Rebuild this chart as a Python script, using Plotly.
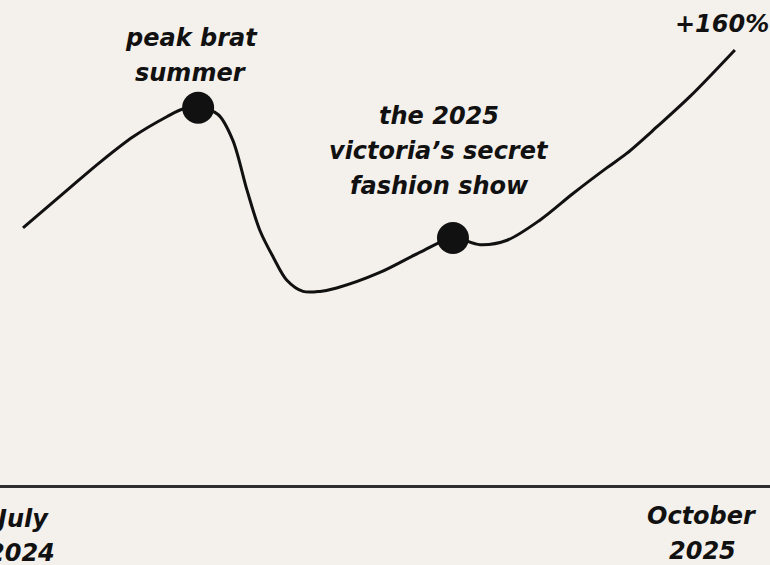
import plotly.graph_objects as go

# data (months since July 2024, % change vs start)
months = [0, 0.93, 1.62, 2.32, 3.03, 3.37, 3.69, 4.11, 4.42, 4.72, 4.99, 5.27,
          5.56, 5.90, 6.26, 6.61, 7.52, 8.36, 9.06, 9.63, 10.20, 10.89, 11.59,
          12.30, 12.72, 13.36, 14.05, 15.0]
pct = [0, 34, 59, 82, 100, 107, 108, 102, 79, 34, -2, -26,
       -47, -57, -57, -54, -40, -22, -9, -15, -11, 7, 31,
       54, 67, 91, 118, 160]

event_months = [3.69, 9.06]
event_pct = [108, -9]
event_labels = [["peak brat", "summer"],
                ["the 2025", "victoria’s secret", "fashion show"]]
end_label = "+160%"
start_label = ["July", "2024"]
end_tick_label = ["October", "2025"]

W, H = 770, 565
PLOT_H = 485

BG = "#f4f0eb"
INK = "#111111"
FONT = dict(family="DejaVu Sans", size=24, color=INK, weight="bold", style="italic")

fig = go.Figure()
fig.add_trace(go.Scatter(x=months, y=pct, mode="lines",
                         line=dict(color=INK, width=3, shape="spline", smoothing=0.9),
                         hoverinfo="skip", showlegend=False))
fig.add_trace(go.Scatter(x=event_months, y=event_pct, mode="markers",
                         marker=dict(color=INK, size=32), hoverinfo="skip",
                         showlegend=False))


def px_y(p):
    return 1 - p / PLOT_H


def px_x(p):
    return p / W


annotations = []


def add_lines(lines, cx, first_y, pitch):
    for i, t in enumerate(lines):
        annotations.append(dict(text=t, x=px_x(cx), y=px_y(first_y + i * pitch),
                                xref="paper", yref="paper", showarrow=False,
                                xanchor="center", yanchor="middle", font=FONT))


add_lines(event_labels[0], 191, 38, 35)
add_lines(event_labels[1], 439, 116, 35)
add_lines([end_label], 722, 24, 35)
add_lines(start_label, 21, 519, 34)
add_lines(end_tick_label, 702, 516, 35)

fig.update_layout(
    width=W, height=H,
    margin=dict(l=0, r=0, t=0, b=H - PLOT_H),
    paper_bgcolor=BG, plot_bgcolor=BG,
    xaxis=dict(range=[-0.4845, 15.74], showgrid=False, zeroline=False,
               showticklabels=False, ticks="", showline=True,
               linecolor="#2e2e2e", linewidth=3, fixedrange=True),
    yaxis=dict(range=[-231.0, 204.9], visible=False, fixedrange=True),
    annotations=annotations,
)

fig.write_html("out.html", config={"displayModeBar": False},
               post_script="document.body.style.margin='0';"
                           "document.body.style.background='" + BG + "';")
